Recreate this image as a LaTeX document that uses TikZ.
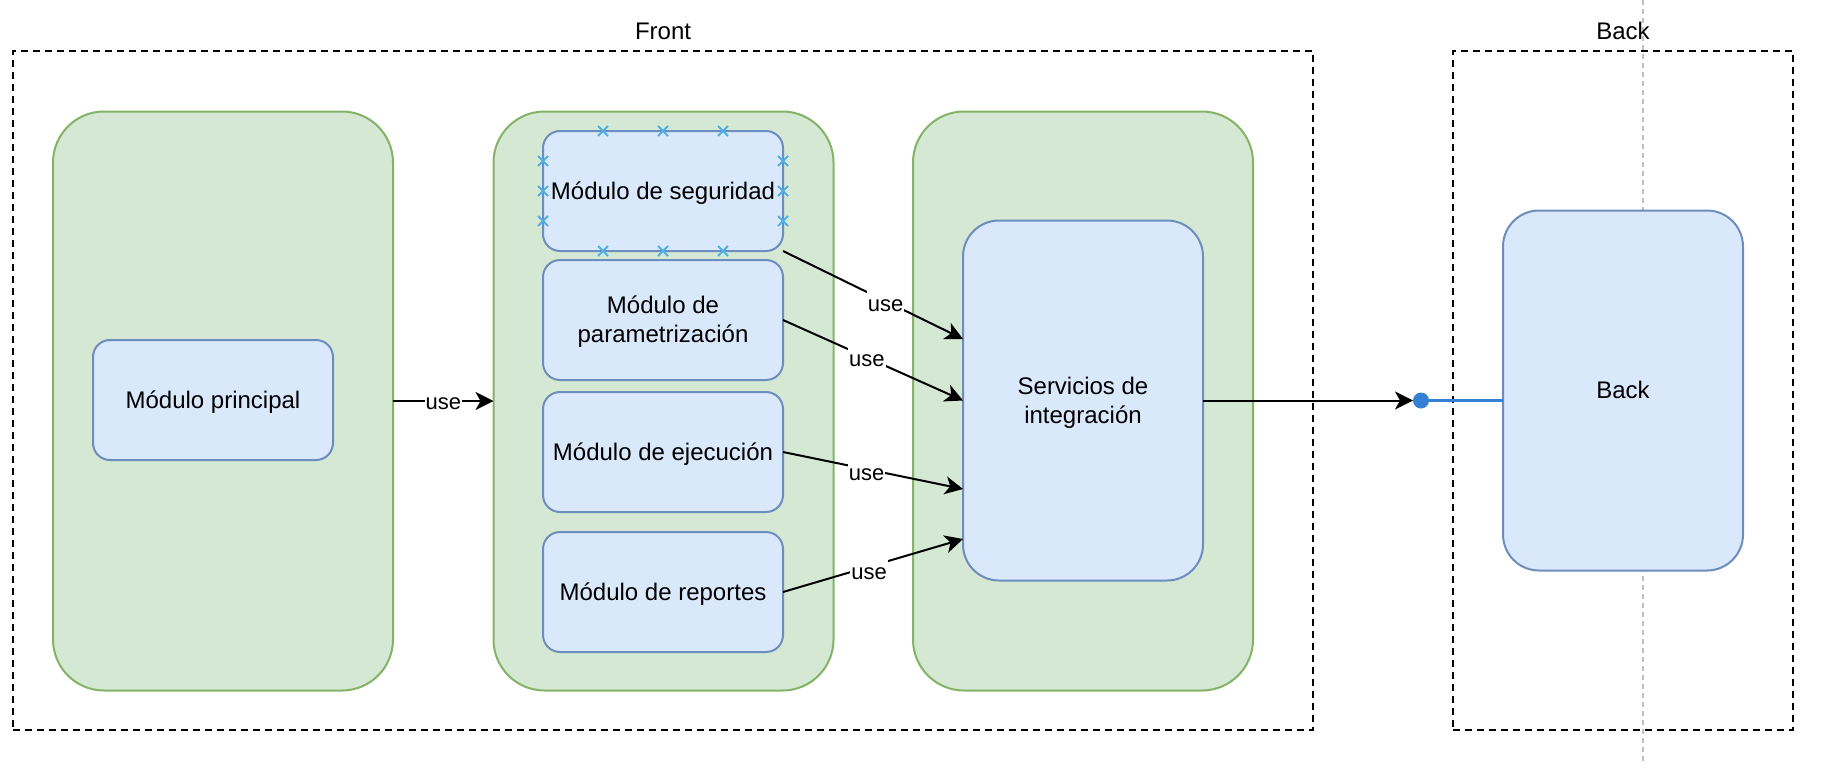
\documentclass[tikz,border=0pt]{standalone}
\usepackage{fontspec}
\setmainfont{Liberation Sans}
\usetikzlibrary{arrows.meta,calc}
\definecolor{gfill}{HTML}{D5E8D4}
\definecolor{gdraw}{HTML}{82B366}
\definecolor{bfill}{HTML}{DAE8FC}
\definecolor{bdraw}{HTML}{6C8EBF}
\definecolor{dotblue}{HTML}{3380D4}
\definecolor{crossblue}{HTML}{4FB0E8}
\definecolor{lanegrey}{HTML}{C0C0C0}
\newcommand{\ls}{\rule[-0.254em]{0pt}{1.2em}}
\begin{document}
\begin{tikzpicture}[x=1pt,y=-1pt,
  greenbox/.style={draw=gdraw, fill=gfill, line width=2pt, rounded corners=51pt, minimum width=340pt, minimum height=579pt, inner sep=0pt, outer sep=0pt},
  modbox/.style={draw=bdraw, fill=bfill, line width=2pt, rounded corners=17pt, minimum width=240pt, minimum height=120pt, inner sep=0pt, outer sep=0pt, align=center, font=\fontsize{24}{28.8}\selectfont},
  bigbox/.style={modbox, rounded corners=36pt, minimum height=360pt},
  region/.style={draw=black, line width=2pt, dash pattern=on 7pt off 5pt, minimum height=679pt, inner sep=0pt, outer sep=0pt},
  ttl/.style={font=\fontsize{24}{28.8}\selectfont, inner sep=0pt},
  uselbl/.style={fill=white, inner xsep=1pt, inner ysep=0pt, font=\fontsize{22}{26}\selectfont},
  conn/.style={draw=black, line width=2pt, -{Stealth[length=18pt,width=18pt,inset=5pt]}},
  crossmk/.style={draw=crossblue, line width=2pt},
]
\useasboundingbox (0,0) rectangle (1822,764);
% lane line
\coordinate (lanetop) at (1643,0);
\coordinate (lanebot) at (1643,764);
\draw[lanegrey, line width=2pt, dash pattern=on 5pt off 4pt] (lanetop) -- (lanebot);
% regions
\node[region, minimum width=1300pt] (front) at (663,390.5) {};
\node[ttl] (frontlbl) at ([yshift=20pt]front.north) {Front};
\node[region, minimum width=340pt] (backreg) at (1623,390.5) {};
\node[ttl] (backlbl) at ([yshift=20pt]backreg.north) {Back};
% green containers
\node[greenbox] (g1) at (223,401) {};
\node[greenbox] (g2) at (663.5,401) {};
\node[greenbox] (g3) at (1083,401) {};
% modules
\node[modbox] (main) at (213,400) {\ls Módulo principal};
\node[modbox] (sec) at (663,191) {\ls Módulo de seguridad};
\node[modbox] (param) at (663,320) {\ls Módulo de\\\ls parametrización};
\node[modbox] (ejec) at (663,452) {\ls Módulo de ejecución};
\node[modbox] (rep) at (663,592) {\ls Módulo de reportes};
\node[bigbox] (serv) at (1083,400.5) {\ls Servicios de\\\ls integración};
\node[bigbox] (backbox) at (1623,390.5) {\ls Back};
% connectors
\draw[conn] (g1.east) -- node[uselbl, text height=22.7pt, text depth=5.3pt] {use} (g2.west);
\draw[conn] (sec.south east) -- node[uselbl, pos=0.57, text height=24.1pt, text depth=3.9pt] {use} ([yshift=61.5pt]serv.west);
\draw[conn] (param.east) -- node[uselbl, pos=0.466, text height=22.9pt, text depth=5.1pt] {use} (serv.west);
\draw[conn] (ejec.east) -- node[uselbl, pos=0.465, text height=25.7pt, text depth=2.3pt] {use} ([yshift=-88.5pt]serv.west);
\draw[conn] (rep.east) -- node[uselbl, pos=0.478, text height=27.2pt, text depth=0.8pt] {use} ([yshift=-138.5pt]serv.west);
\node[circle, fill=dotblue, minimum size=16pt, inner sep=0pt, outer sep=0pt] (dot) at (1421,400.5) {};
\draw[conn] (serv.east) -- (dot.west);
\draw[dotblue, line width=3.5pt] (dot.center) -- (backbox.west |- dot);
% connection-point crosses on security module
\foreach \f in {0.25,0.5,0.75}{
  \foreach \a/\b in {north west/north east, south west/south east, north west/south west, north east/south east}{
    \draw[crossmk] ($(sec.\a)!\f!(sec.\b)$) +(-5,-5) -- +(5,5) +(-5,5) -- +(5,-5);
  }
}
\end{tikzpicture}
\end{document}
